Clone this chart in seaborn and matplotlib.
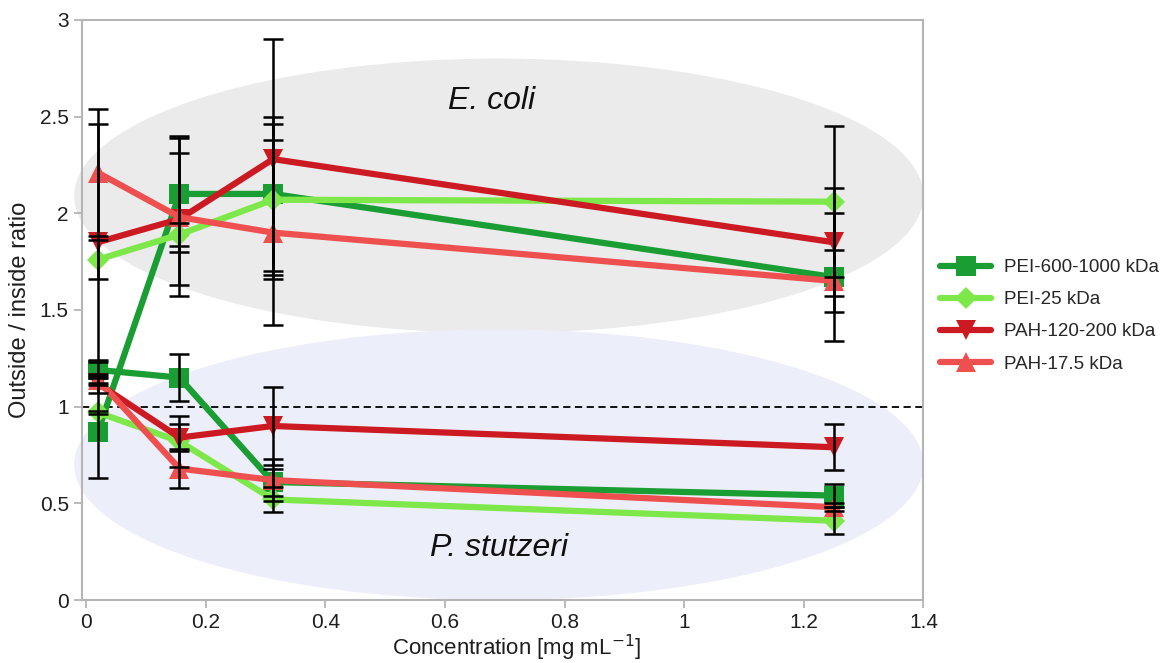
import matplotlib
matplotlib.use("Agg")
import matplotlib.pyplot as plt
from matplotlib.patches import Ellipse
import seaborn as sns
import pandas as pd

# ==================================================
# DATA
# ==================================================

conc = [0.0195, 0.156, 0.3125, 1.25]

series_names = ["PEI-600-1000 kDa", "PEI-25 kDa", "PAH-120-200 kDa", "PAH-17.5 kDa"]

# E. coli (upper group)
ecoli_vals = {
    "PEI-600-1000 kDa": [0.87, 2.10, 2.10, 1.67],
    "PEI-25 kDa": [1.76, 1.89, 2.07, 2.06],
    "PAH-120-200 kDa": [1.85, 1.97, 2.28, 1.85],
    "PAH-17.5 kDa": [2.21, 1.98, 1.90, 1.65],
}
ecoli_err = {
    "PEI-600-1000 kDa": [0.24, 0.30, 0.40, 0.33],
    "PEI-25 kDa": [0.10, 0.06, 0.39, 0.39],
    "PAH-120-200 kDa": [0.61, 0.34, 0.62, 0.28],
    "PAH-17.5 kDa": [0.33, 0.41, 0.48, 0.16],
}

# P. stutzeri (lower group)
pstutz_vals = {
    "PEI-600-1000 kDa": [1.19, 1.15, 0.61, 0.54],
    "PEI-25 kDa": [0.97, 0.82, 0.52, 0.41],
    "PAH-120-200 kDa": [1.12, 0.84, 0.90, 0.79],
    "PAH-17.5 kDa": [1.14, 0.68, 0.62, 0.48],
}
pstutz_err = {
    "PEI-600-1000 kDa": [0.04, 0.12, 0.07, 0.06],
    "PEI-25 kDa": [0.01, 0.13, 0.065, 0.07],
    "PAH-120-200 kDa": [0.05, 0.07, 0.20, 0.12],
    "PAH-17.5 kDa": [0.02, 0.10, 0.11, 0.02],
}

colors = {
    "PEI-600-1000 kDa": "#1a9e33",
    "PEI-25 kDa": "#7ee84a",
    "PAH-120-200 kDa": "#cc1a22",
    "PAH-17.5 kDa": "#ee5050",
}
markers = {
    "PEI-600-1000 kDa": "s",
    "PEI-25 kDa": "D",
    "PAH-120-200 kDa": "v",
    "PAH-17.5 kDa": "^",
}
marker_sizes = {
    "PEI-600-1000 kDa": 14,
    "PEI-25 kDa": 11,
    "PAH-120-200 kDa": 14,
    "PAH-17.5 kDa": 14,
}

# ==================================================
# BUILD TABLE
# ==================================================

rows = []
for group, vals, errs in [("E. coli", ecoli_vals, ecoli_err),
                          ("P. stutzeri", pstutz_vals, pstutz_err)]:
    for name in series_names:
        for c, v, e in zip(conc, vals[name], errs[name]):
            rows.append({"group": group, "series": name,
                         "conc": c, "ratio": v, "err": e})
df = pd.DataFrame(rows)

# ==================================================
# PLOT
# ==================================================

sns.set_style("white")
plt.rcParams["font.family"] = ["Liberation Sans", "DejaVu Sans"]

fig = plt.figure(figsize=(11.76, 6.63), dpi=100)
ax = fig.add_axes([0.0697, 0.095, 0.7155, 0.875])

ax.set_xlim(-0.007, 1.4)
ax.set_ylim(0, 3)

# background ellipses
ax.add_patch(Ellipse((0.69, 2.09), 1.42, 1.42, facecolor="#ebebeb",
                     edgecolor="none", zorder=0, clip_on=False))
ax.add_patch(Ellipse((0.69, 0.70), 1.42, 1.40, facecolor="#eceefa",
                     edgecolor="none", zorder=0, clip_on=False))

ax.text(0.678, 2.58, "E. coli", style="italic", fontsize=23,
        ha="center", va="center", color="#111111", zorder=1)
ax.text(0.69, 0.27, "P. stutzeri", style="italic", fontsize=23,
        ha="center", va="center", color="#111111", zorder=1)

ax.axhline(1.0, color="black", linestyle=(0, (4, 2.5)), linewidth=1.3,
           zorder=2)

# error bars
for group in ["E. coli", "P. stutzeri"]:
    for name in series_names:
        sub = df[(df["group"] == group) & (df["series"] == name)]
        ax.errorbar(sub["conc"], sub["ratio"], yerr=sub["err"],
                    fmt="none", ecolor="black", elinewidth=1.8,
                    capsize=7, capthick=1.8, zorder=5)

# lines
for group in ["E. coli", "P. stutzeri"]:
    for name in series_names:
        sub = df[(df["group"] == group) & (df["series"] == name)]
        sns.lineplot(data=sub, x="conc", y="ratio", ax=ax,
                     color=colors[name], linewidth=4.5,
                     marker=markers[name], markersize=marker_sizes[name],
                     markeredgewidth=0, sort=False, zorder=4,
                     label=name if group == "E. coli" else None)

# axes style
for side in ["left", "right", "top", "bottom"]:
    ax.spines[side].set_color("#b5b5b5")
    ax.spines[side].set_linewidth(1.5)

ax.set_xticks([0, 0.2, 0.4, 0.6, 0.8, 1, 1.2, 1.4])
ax.set_xticklabels(["0", "0.2", "0.4", "0.6", "0.8", "1", "1.2", "1.4"])
ax.set_yticks([0, 0.5, 1, 1.5, 2, 2.5, 3])
ax.set_yticklabels(["0", "0.5", "1", "1.5", "2", "2.5", "3"])
ax.tick_params(axis="both", which="both", direction="out", length=6,
               width=1.3, color="#b5b5b5", labelsize=15,
               labelcolor="#1e1e1e", bottom=True, left=True)

ax.set_xlabel("Concentration [mg mL$^{-1}$]", fontsize=16,
              color="#1e1e1e")
ax.xaxis.set_label_coords(0.516, -0.056)
ax.set_ylabel("Outside / inside ratio", fontsize=17,
              color="#1e1e1e")
ax.yaxis.set_label_coords(-0.060, 0.5)

leg = ax.legend(loc="center left", bbox_to_anchor=(1.0, 0.49),
                frameon=False, fontsize=13.5, handlelength=2.7,
                labelspacing=0.8, handletextpad=0.7)

fig.savefig("out.png", dpi=100)
